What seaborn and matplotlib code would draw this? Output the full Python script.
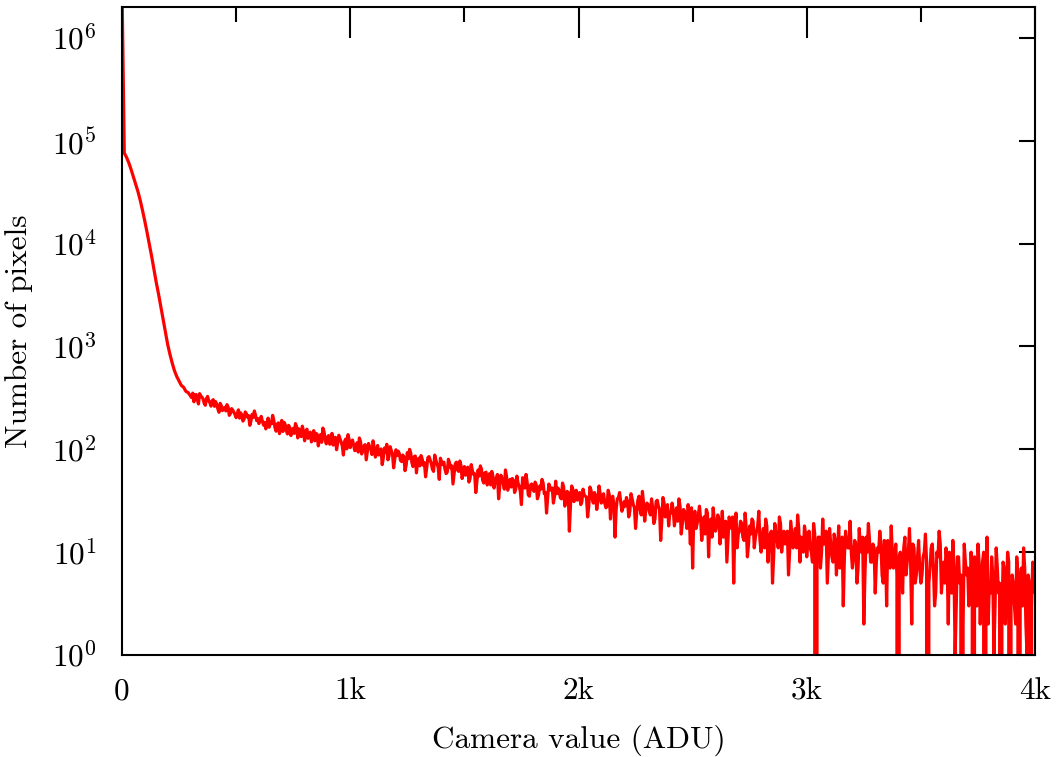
import numpy as np
import matplotlib
matplotlib.use("Agg")
import matplotlib.pyplot as plt
import seaborn as sns
from matplotlib.ticker import NullLocator

# Bright, smooth part of the histogram: 10-ADU bins, 0 .. 300 ADU
core_step = 10
core_counts = [
    3200000, 76000, 69000, 61000, 52500, 44500, 38000, 32000, 26300, 21000,
    16500, 12800, 9800, 7500, 5600, 4200, 3240, 2450, 1850, 1400,
    1050, 840, 690, 580, 510, 462, 418, 401, 366, 356,
    331,
]

# Noisy tail: 5-ADU bins, 305 .. 4000 ADU, one row per 100 ADU
tail_start = 305
tail_step = 5
tail_counts = [
    318, 352, 290, 337, 341, 305, 276, 348, 330, 322, 309, 281, 268, 311, 327, 296, 284, 263, 297, 304,
    262, 291, 274, 247, 229, 280, 266, 238, 245, 256, 236, 272, 258, 214, 223, 249, 241, 229, 218, 203,
    224, 242, 201, 226, 215, 188, 197, 231, 222, 205, 212, 171, 189, 219, 204, 236, 214, 190, 199, 178,
    196, 209, 188, 172, 183, 158, 170, 201, 164, 187, 177, 214, 192, 163, 150, 176, 181, 142, 160, 191,
    149, 183, 174, 152, 141, 171, 162, 136, 155, 160, 143, 178, 166, 129, 158, 147, 133, 168, 152, 121,
    145, 157, 128, 134, 147, 118, 130, 152, 121, 143, 140, 108, 126, 139, 117, 161, 149, 125, 113, 131,
    136, 112, 121, 143, 110, 129, 131, 99, 115, 137, 127, 118, 108, 88, 119, 126, 101, 139, 125, 104,
    117, 123, 109, 97, 102, 116, 94, 129, 119, 90, 98, 108, 111, 79, 95, 114, 106, 101, 89, 121,
    104, 84, 92, 109, 88, 95, 101, 71, 83, 103, 94, 112, 79, 86, 106, 97, 91, 66, 80, 99,
    87, 96, 91, 78, 76, 88, 84, 62, 70, 93, 81, 100, 92, 74, 68, 85, 86, 59, 75, 82,
    69, 87, 81, 70, 74, 54, 66, 83, 85, 79, 73, 64, 61, 88, 79, 72, 67, 51, 82, 76,
    71, 75, 64, 58, 60, 80, 74, 66, 69, 46, 57, 72, 75, 63, 61, 77, 70, 52, 59, 68,
    56, 65, 67, 48, 52, 71, 62, 57, 58, 38, 49, 63, 55, 69, 64, 50, 47, 59, 60, 45,
    50, 58, 45, 61, 55, 42, 49, 53, 57, 33, 44, 56, 52, 47, 41, 63, 54, 40, 46, 51,
    43, 52, 50, 38, 41, 55, 47, 44, 39, 29, 53, 49, 42, 57, 48, 36, 35, 45, 46, 41,
    39, 48, 45, 33, 36, 44, 41, 51, 47, 37, 38, 24, 34, 46, 43, 40, 42, 30, 35, 49,
    37, 42, 40, 34, 33, 47, 43, 28, 35, 39, 38, 16, 29, 44, 41, 31, 34, 40, 32, 36,
    38, 29, 31, 41, 36, 35, 34, 22, 28, 43, 40, 33, 30, 38, 35, 26, 32, 44, 37, 30,
    33, 37, 30, 27, 28, 40, 36, 21, 32, 35, 29, 14, 26, 33, 34, 38, 31, 25, 27, 31,
    28, 34, 31, 22, 25, 37, 33, 29, 27, 17, 24, 32, 35, 26, 23, 39, 30, 20, 26, 30,
    29, 25, 23, 33, 27, 19, 21, 31, 32, 28, 26, 13, 20, 34, 30, 22, 25, 29, 18, 24,
    24, 30, 26, 18, 22, 27, 20, 33, 28, 15, 19, 26, 25, 21, 17, 29, 23, 12, 27, 7,
    22, 25, 17, 19, 23, 28, 21, 13, 18, 22, 15, 26, 24, 9, 19, 21, 14, 27, 20, 16,
    18, 23, 21, 12, 16, 25, 14, 19, 20, 8, 13, 22, 19, 17, 22, 5, 17, 24, 11, 15,
    16, 20, 19, 14, 13, 24, 17, 9, 12, 18, 15, 21, 20, 11, 14, 16, 18, 25, 13, 10,
    14, 17, 11, 21, 18, 8, 12, 15, 16, 5, 9, 19, 15, 13, 11, 22, 19, 10, 13, 16,
    12, 14, 16, 6, 10, 20, 15, 11, 13, 17, 11, 23, 17, 8, 14, 13, 10, 18, 15, 9,
    13, 16, 11, 10, 8, 19, 15, 0, 9, 14, 14, 7, 10, 21, 12, 12, 16, 5, 9, 17,
    12, 9, 8, 15, 13, 6, 10, 18, 7, 12, 14, 3, 9, 16, 13, 11, 11, 20, 10, 7,
    9, 13, 12, 5, 7, 17, 11, 10, 14, 2, 6, 14, 10, 19, 13, 8, 8, 12, 11, 4,
    8, 11, 10, 16, 12, 6, 5, 13, 11, 3, 13, 9, 7, 18, 10, 7, 9, 12, 6, 0,
    9, 10, 7, 4, 11, 14, 6, 8, 10, 17, 8, 2, 12, 11, 5, 6, 9, 13, 7, 5,
    6, 9, 10, 15, 8, 0, 5, 7, 11, 12, 7, 3, 4, 10, 9, 16, 12, 4, 6, 8,
    5, 11, 8, 2, 10, 7, 4, 13, 7, 1, 3, 9, 9, 5, 6, 0, 2, 12, 8, 6,
    7, 3, 4, 10, 6, 0, 9, 7, 3, 12, 8, 2, 5, 8, 10, 0, 6, 14, 2, 5,
    4, 9, 6, 1, 3, 11, 7, 4, 5, 0, 2, 8, 7, 2, 4, 10, 8, 0, 3, 6,
    5, 3, 2, 9, 6, 0, 4, 7, 3, 11, 7, 2, 1, 6, 5, 0, 3, 8, 6, 4,
]

core_adu = np.arange(len(core_counts)) * core_step
tail_adu = tail_start + np.arange(len(tail_counts)) * tail_step
adu = np.concatenate([core_adu, tail_adu])
counts = np.array(core_counts + tail_counts, dtype=float)

x_ticks = [0, 1000, 2000, 3000, 4000]
x_tick_labels = ["0", "1k", "2k", "3k", "4k"]
x_minor_ticks = [500, 1500, 2500, 3500]
y_exponents = [0, 1, 2, 3, 4, 5, 6]

sns.set_theme(style="white")
plt.rcParams["font.family"] = ["cmr10"]
plt.rcParams["mathtext.fontset"] = "cm"
plt.rcParams["axes.unicode_minus"] = False
plt.rcParams["text.color"] = "black"
plt.rcParams["axes.labelcolor"] = "black"
plt.rcParams["xtick.color"] = "black"
plt.rcParams["ytick.color"] = "black"

W, H = 1056, 757
fig = plt.figure(figsize=(W / 100, H / 100), dpi=100)
ax = fig.add_axes([122 / W, 1 - 655 / H, (1035 - 122) / W, (655 - 7) / H])

sns.lineplot(x=adu, y=counts, ax=ax, color="#ff0000", linewidth=2.3,
             estimator=None, sort=False, legend=False)

ax.set_yscale("log")
ax.set_ylim(1, 2.0e6)
ax.set_xlim(0, 4000)

ax.set_yticks([10.0 ** e for e in y_exponents])
ax.set_yticklabels([r"$10^{%d}$" % e for e in y_exponents])
ax.yaxis.set_minor_locator(NullLocator())
ax.set_xticks(x_ticks)
ax.set_xticklabels(x_tick_labels)
ax.set_xticks(x_minor_ticks, minor=True)

ax.tick_params(which="both", direction="in", top=True, right=True,
               width=1.5, labelsize=22.5)
ax.tick_params(axis="x", which="major", length=22, pad=16)
ax.tick_params(axis="x", which="minor", length=11)
ax.tick_params(axis="y", which="major", length=11.5, pad=18)

for sp in ax.spines.values():
    sp.set_color("black")
    sp.set_linewidth(1.5)

ax.set_xlabel("Camera value (ADU)", fontsize=22.5, labelpad=14)
ax.set_ylabel("Number of pixels", fontsize=22.5, labelpad=14)

fig.savefig("out.png", dpi=100, facecolor="white")
